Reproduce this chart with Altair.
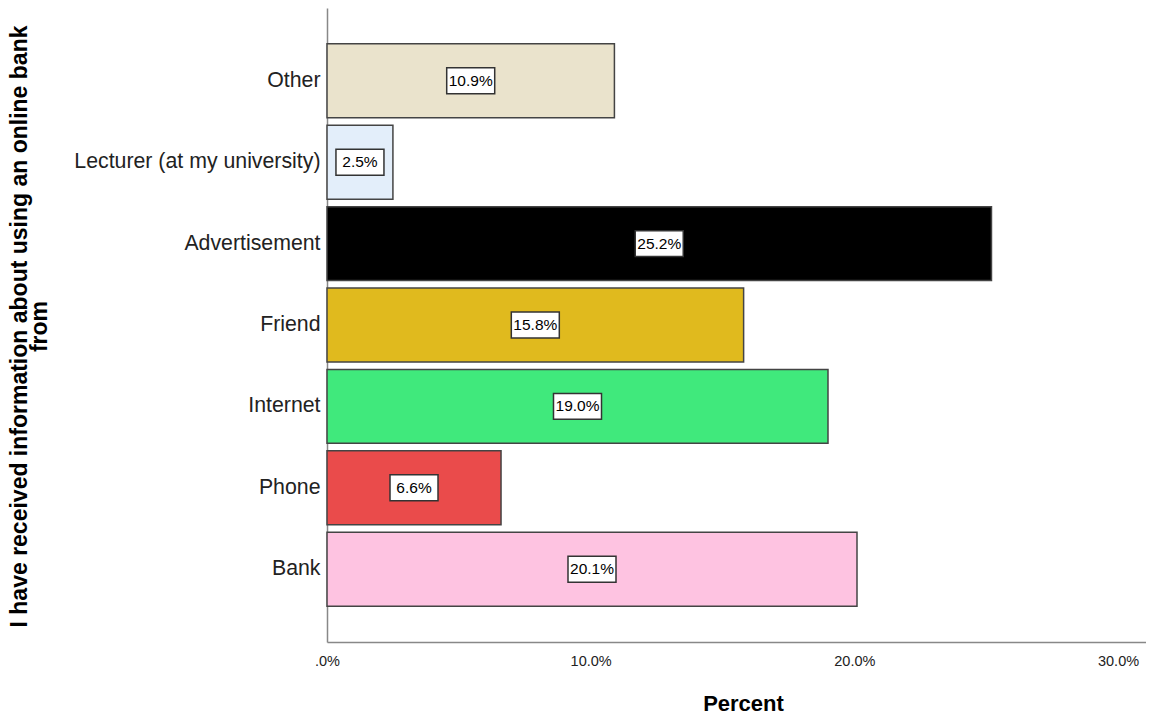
import altair as alt
import pandas as pd

categories = ["Other", "Lecturer (at my university)", "Advertisement", "Friend", "Internet", "Phone", "Bank"]
percents = [10.9, 2.5, 25.2, 15.8, 19.0, 6.6, 20.1]
labels = ["10.9%", "2.5%", "25.2%", "15.8%", "19.0%", "6.6%", "20.1%"]
colors = ["#EAE3CC", "#E3EEFA", "#000000", "#E0BA1E", "#40E97C", "#EA4B4B", "#FEC3E1"]

df = pd.DataFrame({"cat": categories, "pct": percents, "label": labels})
df["mid"] = df["pct"] / 2

FONT = "Liberation Sans"

y_enc = alt.Y(
    "cat:N",
    sort=categories,
    scale=alt.Scale(paddingInner=0.092, paddingOuter=0.44),
    axis=alt.Axis(
        title=["I have received information about using an online bank", "from"],
        titleFontSize=23, titleFontWeight="bold", titleFont=FONT, titleColor="#000",
        titleLineHeight=20, titleAngle=270, titleAlign="center", titleBaseline="top",
        titleX=-319, titleY=318,
        labelFontSize=21.3, labelFont=FONT, labelColor="#222", labelPadding=7,
        ticks=False, domainColor="#888", domainWidth=1.5, labelLimit=400,
    ),
)

x_scale = alt.Scale(domain=[0, 31.06], nice=False)

bars = alt.Chart(df).mark_bar(stroke="#444", strokeWidth=1.5).encode(
    y=y_enc,
    x=alt.X(
        "pct:Q",
        scale=x_scale,
        axis=alt.Axis(
            title="Percent", titleFontSize=22, titleFontWeight="bold", titleFont=FONT,
            titleColor="#000", titlePadding=26, titleX=416,
            values=[0, 10, 20, 30], grid=False, ticks=False, labelFlush=False,
            labelExpr="datum.value == 0 ? '.0%' : format(datum.value, '.1f') + '%'",
            labelFontSize=14.5, labelFont=FONT, labelColor="#222", labelPadding=12,
            domainColor="#888", domainWidth=1.5,
        ),
    ),
    color=alt.Color("cat:N", scale=alt.Scale(domain=categories, range=colors), legend=None),
)

boxes = alt.Chart(df).mark_point(
    shape="M-1,-0.54H1V0.54H-1Z", filled=True, fill="white", stroke="#333",
    strokeWidth=1.5, opacity=1, size=2304,
).encode(
    y=alt.Y("cat:N", sort=categories),
    x=alt.X("mid:Q", scale=x_scale),
)

text = alt.Chart(df).mark_text(
    font=FONT, fontSize=15.5, color="#000",
).encode(
    y=alt.Y("cat:N", sort=categories),
    x=alt.X("mid:Q", scale=x_scale),
    text="label:N",
)

chart = alt.layer(bars, boxes, text).properties(
    width=819, height=634,
    padding={"left": 0, "top": 0, "right": 0, "bottom": 0},
).configure_view(stroke=None)

chart.save("out.html", embed_options={"renderer": "svg", "actions": False})
